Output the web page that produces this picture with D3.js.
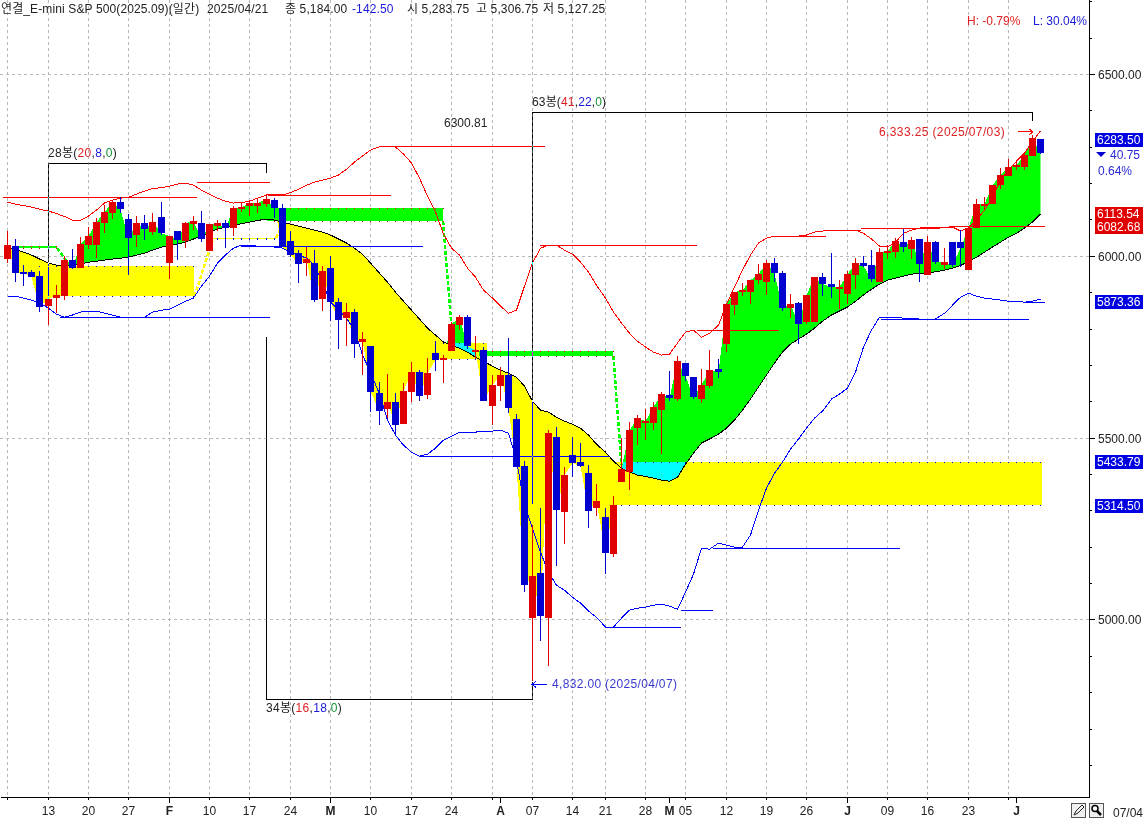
<!DOCTYPE html>
<html><head><meta charset="utf-8">
<script src="https://cdn.jsdelivr.net/npm/d3@7"></script>
<style>
html,body{margin:0;padding:0;background:#fff}
svg{display:block}
text{font-family:"Liberation Sans","Noto Sans CJK KR",sans-serif;font-size:12px;fill:#222}
</style></head><body><div id="chart"></div>
<script>
const opens=[5992,6027,5957,5956,5945,5862,5884,5890,5989,5967,
6030,6030,6091,6118,6148.5,6102,6058,6091,6066,6107,
5981,6069,6041,6088,6091,6014,6082.5,6091,6077,6129,
6137.5,6137.5,6143,6154,6132,6041,6008,5981,5981,5882,
5967,5873.5,5829.5,5846,5763.5,5752.5,5623,5579,5598.5,5538,
5626,5681,5618,5733,5714,5739,5810,5832,5736,5741.5,
5587.5,5642.5,5673,5552,5422.5,5004.5,5128,5004.5,5502,5296,
5453,5433.5,5403,5307,5283.75,5180.5,5378.5,5406,5527,5541,
5541,5576.5,5618,5607,5706,5667,5607,5642.5,5689,5758,
5865,5901,5901,5934,5928.5,5981,5953,5857,5871,5818.5,
5818.5,5942,5923,5909,5895.5,5948,5981,5975,5928.5,6008,
6011,6038.5,6019,6047,5948,6038.5,5975,6038.5,6038.5,5961.5,
6077,6140,6143,6195,6220,6245,6245,6275,6322];
const closes=[6030,5953,5955,5942,5860,5882,5893,5989,5967,6033,
6055,6093,6121,6148.5,6129,6049.5,6091,6074,6093.5,6063,
6055,6044,6091,6096,6047,6088,6091,6077,6132,6135,
6146,6146,6157,6132,6025,6003,5978,5992,5879,5959,
5873.5,5824,5846,5758,5772,5626,5574,5598.5,5535,5629,
5681,5615,5678,5714,5719.5,5813,5832,5752.5,5741.5,5601,
5645,5673,5582,5420,5095,5120,5010,5513,5301.5,5398,
5431,5422.5,5299,5326,5184,5315,5414,5521.5,5554.5,5546,
5585,5620.5,5609.5,5711,5670,5612,5645,5686.5,5681,5868,
5901,5906.5,5934,5950.5,5981,5953,5857,5868,5813,5893,
5942,5923,5915,5915,5950.5,5981,5972.5,5937,6011,6014,
6041,6025,6044,5978,6038.5,5983.5,5983.5,5975,6022,6077,
6143,6143,6195,6223,6245,6250,6278,6324.5,6283.5];
const highs=[6069,6047,5975,5961,5959,5887,5920,6000,6019,6052,
6080,6104.5,6140,6154,6162,6115,6110,6113,6118,6148.5,
6055,6069,6093.5,6110,6124,6088,6099,6099,6137.5,6148.5,
6154,6159.5,6170.5,6159.5,6143,6069,6016.5,6025,6016.5,5972.5,
6000,5884.5,5871,5854,5791,5752.5,5653.5,5675.5,5623,5651,
5708.5,5686.5,5719.5,5766,5728,5818.5,5838,5838,5780,5750,
5673,5695,5774.5,5565.5,5436,5260,5307,5521.5,5530,5420,
5502,5486,5425,5373,5306.75,5340,5500,5543.5,5563,5579,
5598.5,5626,5684,5725,5706,5667,5689,5741.5,5717,5868,
5901,5926,5934,5978,5989,5994.5,5959,5895.5,5873.5,5893,
5942,5953,6008,5934,5959,5994.5,6000,6016.5,6022,6030,
6049.5,6074,6052,6047,6055,6041,6022,6038.5,6071.5,6077,
6157,6162,6195,6242,6267,6261,6280.5,6333.25,6322];
const lows=[5981,5928,5918,5942,5846,5810,5843,5879,5964,5967,
6019,5994,6063,6102,6118,5948,6025,6044,6058,6058,
5937,5989,6022,6071.5,6038.5,6014,6069,6022,6055,6121,
6110,6118,6135,6104.5,6025,5997,5926,5945,5873.5,5849,
5821,5744,5752.5,5719.5,5673,5571,5535,5554.5,5510.5,5538,
5598.5,5601,5607,5684,5651,5739,5796.5,5744,5717,5601,
5535,5601,5568,5420,5076,4832,4941,4872.5,5147.5,5208,
5392,5420,5252,5285,5127.25,5172,5378.5,5356.5,5480,5494,
5521.5,5455.5,5601,5601,5656,5607,5596,5637,5664.5,5736,
5838,5890,5868,5923,5893,5928.5,5849,5829.5,5758,5813,
5818.5,5890,5884.5,5854,5868,5909,5970,5928.5,5928.5,5992,
5994.5,6011,5992,5928.5,5948,5978,5964,5970,5970,5961.5,
6077,6126.5,6143,6184,6220,6236.5,6236.5,6275,6280.5];
const maLine=[6025,6019,6011,6003,5992,5981,5975,5972.5,5975,5978,
5983.5,5986,5989,5992,5994.5,5997,6003,6008,6016.5,6025,
6030,6033,6038.5,6047,6055,6066,6074,6080,6085,6089,
6093.5,6098,6102,6099,6093.5,6088,6082.5,6077,6071.5,6066,
6058,6047,6036,6022,6005.5,5981,5953,5928.5,5901,5876,
5851.5,5827,5802,5783,5763.5,5755,5747,5736,5722,5711,
5697.5,5686.5,5678,5667,5642.5,5601,5576.5,5571,5557,5546,
5538,5527,5508,5483,5461,5436,5417,5406,5398,5394,
5389.5,5384,5381,5392,5428,5458,5486,5497,5510.5,5527,
5549,5576.5,5607,5640,5673,5706,5736,5758,5772,5785.5,
5802,5821,5838,5849,5860,5876,5893,5909,5923,5934,
5939.5,5945,5950.5,5952,5953,5957,5961.5,5967,5974,5986,
5997,6011,6025,6038.5,6052,6063,6077,6093.5,6115.5];
const upperLine=[6148.5,6143,6139,6135,6129,6124,6117,6109,6099,6099,
6110,6126.5,6146,6154,6159.5,6162,6170.5,6179,6186,6188,
6192.5,6198,6201,6195,6181.5,6170.5,6159.5,6151,6146,6147,
6151,6159.5,6168,6170.5,6168,6174.5,6184,6195,6203.5,6209,
6214.5,6223,6239,6258.5,6275,6291.5,6301,6302.5,6300,6280.5,
6256,6214.5,6165,6121,6060.5,6022,6003,5967,5942,5906.5,
5884.5,5862.5,5843,5851.5,5917.5,5981,6022,6030,6030,6016.5,
6005.5,5983.5,5956,5920,5884.5,5846,5816,5788,5766,5750,
5736,5728,5730.5,5761,5791,5796.5,5777,5788,5810,5868,
5915,5961.5,6003,6036,6049.5,6055,6055,6055,6055,6058,
6066,6069,6071.5,6071.5,6071.5,6071.5,6063,6047,6027.5,6025,
6038.5,6063,6071.5,6077,6080,6080,6080,6080,6069,6077,
6099,6126.5,6162,6209,6236.5,6261,6283,6316,6344];
const lowerLine=[5890,5890,5884.5,5879,5871,5857,5840.5,5832,5838,5846,
5849,5849,5843,5838,5832,5832,5832,5832,5846,5851.5,
5854,5865,5876,5884.5,5917.5,5945,5981,6003,6022,6030,
6030,6027.5,6027.5,6025,6022,6011,6003,5994.5,5975,5926,
5873.5,5851.5,5829.5,5796.5,5728,5681,5620.5,5549,5508,5480,
5461,5450,5455.5,5472,5494,5505,5516,5516,5516,5519,
5519,5521.5,5513,5439,5315,5252,5186,5131,5095,5081.5,
5062,5046,5024,5007,4980,4980,5004.5,5026.5,5032,5035,
5040,5043,5037.5,5029,5076,5125.5,5197,5194,5211,5205,
5200,5200,5233,5301.5,5362,5403,5433.5,5469,5497,5527,
5554.5,5574,5607,5620.5,5637,5681,5750,5796.5,5832,5832,
5832,5829.5,5829.5,5827,5827,5827,5843,5865,5887,5898,
5890,5884.5,5882,5879,5876,5876,5873.5,5876,5882];

// stepped bands: [startBar, endBar, high, low]
const yellowBands=[[4,23.2,5972.5,5890],[25.5,33.3,6049.5,6047],[54,59.5,5761,5717],[75.2,128.2,5433.79,5314.5]];
const greenBands=[[1.5,6.2,6027.5,6022],[32.2,54,6132,6096],[58.5,75.1,5739,5725]];
// dashed links between bands: [bar0, price0, bar1, price1]
const yellowLinks=[[23.2,5890,25.5,6047],[33.3,6049.5,34.4,6102]];
const greenLinks=[[6.2,6022,7.7,5975],[54,6096,55,5815],[75.1,5725,76.1,5425]];
// flat level segments: [startBar, endBar, price]
const redLevels=[[-0.5,23.5,6162],[23.5,32.6,6203.5],[32.3,47.6,6168],[46.9,66.6,6300.81],[66,85.5,6030],[85.5,95.6,5796.5],[95,101.5,6055],[101.5,105.8,6071.5],[105.8,115.6,6077],[116.7,128.6,6082.68]];
const blueLevels=[[6.5,32.5,5832],[29,51.5,6027.5],[51,74.5,5450],[74,83.5,4980],[83.5,87.5,5026.5],[87.5,110.6,5197],[108.2,126.6,5827],[126,128.6,5873.36]];
// count brackets: polyline points [bar, price]
const brackets=[
 [[5,5884.5],[5,6255.75],[32,6255.75],[32,6231]],
 [[32,5780],[32,4782],[65,4782],[65,4832]],
 [[65,5320],[65,6396],[127,6396],[127,6374]]];

const gridBars=[0,5,10,15,20,25,30,35,40,45,50,55,60,65,70,74,79,84,89,94,99,104,109,114,119,124];
const tickBars=[0,5,10,15,20,25,30,35,40,45,50,55,60,61,65,70,74,79,82,84,89,94,99,104,109,114,119,124,125];
const tickLabels=['','13','20','27','F','10','17','24','M','10','17','24','','A','07','14','21','28','M','05','12','19','26','J','09','16','23','','J'];
const monthBars=[20,40,61,82,104,125];
const gridPrices=[6500,6000,5500,5000];
const priceTicks=[6700,6600,6500,6400,6300,6200,6100,6000,5900,5800,5700,5600,5500,5400,5300,5200,5100,5000,4900,4800,4700,4600];

const W=1148,H=821,plotR=1089,plotB=797;
const RED='#e00000',BLUE='#0000d0',YELLOW='#ffff00',GREEN='#00ff00',CYAN='#00ffff';
const x=d3.scaleLinear().domain([0,128]).range([7.2,1040.4]);
const y=d3.scaleLinear().domain([6500,5000]).range([74.3,619.8]);
const px=b=>Math.round(x(b));
const cx=b=>px(b)+.5;
const ry=p=>Math.round(y(p)-.35)+.5;
const bars=d3.range(opens.length);

const svg=d3.select('#chart').append('svg').attr('width',W).attr('height',H).attr('viewBox',`0 0 ${W} ${H}`);
svg.append('rect').attr('width',W).attr('height',H).attr('fill','#fff');

const grid=svg.append('g').attr('stroke','#b8b8b8').attr('stroke-dasharray','3 3').attr('shape-rendering','crispEdges');
grid.selectAll('.v').data(gridBars).join('line').attr('x1',cx).attr('x2',cx).attr('y1',0).attr('y2',plotB);
grid.selectAll('.h').data(gridPrices).join('line').attr('x1',0).attr('x2',plotR).attr('y1',ry).attr('y2',ry);

// fill between close line and MA
const defs=svg.append('defs');
const fillArea=d3.area().x(cx).y0(i=>y(closes[i])).y1(i=>y(maLine[i]));
defs.append('clipPath').attr('id','above').append('path').attr('d',d3.area().x(cx).y0(0).y1(i=>y(maLine[i]))(bars));
defs.append('clipPath').attr('id','below').append('path').attr('d',d3.area().x(cx).y0(i=>y(maLine[i])).y1(H)(bars));
defs.append('clipPath').attr('id','fillRegion').append('path').attr('d',fillArea(bars));
const fills=svg.append('g').attr('shape-rendering','crispEdges');
fills.append('path').attr('d',fillArea(bars)).attr('fill',YELLOW).attr('clip-path','url(#below)');
fills.append('path').attr('d',fillArea(bars)).attr('fill',GREEN).attr('clip-path','url(#above)');

const bandRect=(sel,data,color)=>sel.selectAll('rect').data(data).join('rect')
  .attr('x',d=>x(d[0])).attr('width',d=>x(d[1])-x(d[0])).attr('y',d=>y(d[2])).attr('height',d=>Math.max(1,y(d[3])-y(d[2]))).attr('fill',color);
bandRect(svg.append('g').attr('shape-rendering','crispEdges'),yellowBands,YELLOW);
const cyanG=svg.append('g').attr('clip-path','url(#above)').append('g').attr('clip-path','url(#fillRegion)').attr('shape-rendering','crispEdges');
bandRect(cyanG,yellowBands,CYAN);
bandRect(svg.append('g').attr('shape-rendering','crispEdges'),greenBands,GREEN);

const links=(data,color)=>svg.append('g').attr('stroke',color).attr('stroke-width',2.5).attr('stroke-dasharray','4 2').attr('shape-rendering','crispEdges')
  .selectAll('line').data(data).join('line').attr('x1',d=>x(d[0])).attr('y1',d=>y(d[1])).attr('x2',d=>x(d[2])).attr('y2',d=>y(d[3]));
links(yellowLinks,YELLOW);links(greenLinks,GREEN);

// dots along band edges
const bandDots=(data,color)=>{
  const dots=[];
  data.forEach(b=>{d3.range(Math.ceil(b[0]),Math.floor(b[1])+1).forEach(k=>{dots.push([k,b[2]]);dots.push([k,b[3]]);});});
  svg.append('g').attr('fill',color).attr('shape-rendering','crispEdges').selectAll('rect').data(dots).join('rect')
    .attr('x',d=>px(d[0])).attr('y',d=>y(d[1])-.5).attr('width',1).attr('height',1);
};
bandDots(yellowBands,'#0000d0');bandDots(greenBands,'#e00000');

// lines
const line=d=>d3.line().x(cx).y(i=>y(d[i]))(bars);
const lg=svg.append('g').attr('fill','none').attr('shape-rendering','crispEdges');
lg.append('path').attr('d',line(maLine)).attr('stroke','#000');
lg.append('path').attr('d',line(upperLine)).attr('stroke','#ff0000');
lg.append('path').attr('d',line(lowerLine)).attr('stroke','#0000ff');
const levels=(data,color)=>lg.append('g').attr('stroke',color).selectAll('line').data(data).join('line')
  .attr('x1',d=>x(d[0])).attr('x2',d=>x(d[1])).attr('y1',d=>ry(d[2])).attr('y2',d=>ry(d[2]));
levels(redLevels,'#ff0000');levels(blueLevels,'#0000ff');

// candles
const cg=svg.append('g').attr('shape-rendering','crispEdges');
const col=i=>closes[i]>=opens[i]?RED:BLUE;
cg.selectAll('.w').data(bars).join('rect').attr('x',px).attr('width',1)
  .attr('y',i=>y(highs[i])).attr('height',i=>y(lows[i])-y(highs[i])).attr('fill',col);
cg.selectAll('.b').data(bars).join('rect').attr('x',i=>px(i)-3).attr('width',7)
  .attr('y',i=>Math.round(y(Math.max(opens[i],closes[i]))))
  .attr('height',i=>Math.max(2,Math.round(Math.abs(y(opens[i])-y(closes[i])))))
  .attr('fill',col);

// XOR brackets: white with a difference blend reads black on white, blue on yellow, magenta on green
const brg=svg.append('g').attr('fill','none').attr('stroke','#fff').style('mix-blend-mode','difference').attr('shape-rendering','crispEdges');
brg.selectAll('path').data(brackets).join('path')
  .attr('d',d3.line().x(d=>cx(d[0])).y(d=>ry(d[1])));

// axes
const ax=svg.append('g').attr('transform',`translate(0,${plotB})`).call(d3.axisBottom(x).tickValues(tickBars).tickFormat((d,i)=>tickLabels[i]).tickSize(3));
ax.select('.domain').remove();
ax.selectAll('.tick').attr('transform',d=>`translate(${cx(d)},0)`);
ax.selectAll('.tick line').attr('stroke','#000').attr('y2',d=>monthBars.includes(d)?6:3).attr('shape-rendering','crispEdges');
ax.selectAll('.tick text').attr('y',9).attr('font-family',null).attr('font-size',null).style('font-weight',d=>monthBars.includes(d)?'bold':'normal');
const ay=svg.append('g').attr('transform',`translate(${plotR},0)`).call(d3.axisRight(y).tickValues(priceTicks).tickFormat(d=>gridPrices.includes(d)?d3.format('.2f')(d):'').tickSize(3));
ay.select('.domain').remove();
ay.selectAll('.tick').attr('transform',d=>`translate(0,${ry(d)})`);
ay.selectAll('.tick line').attr('stroke','#000').attr('x1',0).attr('x2',d=>gridPrices.includes(d)?6:3).attr('shape-rendering','crispEdges');
ay.selectAll('.tick text').attr('x',9).attr('font-family',null).attr('font-size',null).attr('dy','.36em');
svg.append('path').attr('d',`M.5,${plotB+.5}H${plotR+.5}V0`).attr('fill','none').attr('stroke','#000').attr('shape-rendering','crispEdges');

// text helpers
const T=(xx,yy,parts,ls)=>{
  const t=svg.append('text').attr('x',xx).attr('y',yy);
  if(ls)t.style('letter-spacing',ls+'px');
  parts.forEach(p=>{const s=t.append('tspan').text(p[0]);if(p[1])s.style('fill',p[1]);if(p[2]!=null)s.attr('x',p[2]);});
  return t;
};
const DK='#222',TXTB='#1a1ad8',TXTR='#e02020',TXTG='#109030';
T(1,13,[['연결_E-mini S&P 500(2025.09)(일간)',DK],['2025/04/21',DK,207],['종 5,184.00',DK,285],['-142.50',TXTB,352],['시 5,283.75',DK,407],['고 5,306.75',DK,476],['저 5,127.25',DK,543]],0.12);
T(967,25,[['H: -0.79%',TXTR]]);
T(1033,25,[['L: 30.04%',TXTB]]);
T(48,157,[['28봉(',DK],['20',TXTR],[',',DK],['8',TXTB],[',',DK],['0',TXTG],[')',DK]],0.3);
T(266,712,[['34봉(',DK],['16',TXTR],[',',DK],['18',TXTB],[',',DK],['0',TXTG],[')',DK]],0.3);
T(532,106,[['63봉(',DK],['41',TXTR],[',',DK],['22',TXTB],[',',DK],['0',TXTG],[')',DK]],0.15);
T(444,127,[['6300.81',DK]]);
T(879,136,[['6,333.25 (2025/07/03)',TXTR]],0.38);
T(552,688,[['4,832.00 (2025/04/07)','#3a3ad0']],0.34);
// pointer arrows at the extreme bars
svg.append('path').attr('d',`M${px(127)-14},${y(6333.25)-3}h15m-4,-3l4,3l-4,3`).attr('fill','none').attr('stroke','#ff0000').attr('shape-rendering','crispEdges');
svg.append('path').attr('d',`M${px(65)+15},${y(4832)+3.5}h-15m4,-3l-4,3l4,3`).attr('fill','none').attr('stroke','#0000ff').attr('shape-rendering','crispEdges');

// price tags
const tagPrices=[6283.5,6113.54,6082.68,5873.36,5433.79,5314.5];
const tagFills=['#0000e0','#e00000','#e00000','#0000e0','#0000e0','#0000e0'];
const tagY=[140,214,227,302,462,506];
const tags=svg.append('g');
tags.selectAll('rect').data(tagPrices).join('rect').attr('x',1095).attr('width',48).attr('height',14)
  .attr('y',(d,i)=>tagY[i]-7).attr('fill',(d,i)=>tagFills[i]).attr('shape-rendering','crispEdges');
tags.selectAll('text').data(tagPrices).join('text').attr('x',1097).attr('y',(d,i)=>tagY[i]+4)
  .style('fill','#fff').text(d=>d3.format('.2f')(d));
svg.append('path').attr('d','M1096,152h10l-5,5z').attr('fill','#0000d0');
T(1110,159,[['40.75','#2a2ad8']]);
T(1098,175,[['0.64%','#2a2ad8']]);
T(1113,817,[['07/04','#222']]);

// bottom tool buttons
const btn=svg.append('g').attr('fill','none').attr('shape-rendering','crispEdges');
[1071,1089].forEach(bx=>{
  btn.append('rect').attr('x',bx+.5).attr('y',803.5).attr('width',14).attr('height',14).attr('fill','#f0f0f0').attr('stroke','#555');
});
svg.append('path').attr('d','M1074,815l2,-4l6,-6l2,2l-6,6z').attr('fill','none').attr('stroke','#222');
svg.append('circle').attr('cx',1095).attr('cy',808.5).attr('r',3).attr('fill','#fff').attr('stroke','#000').attr('stroke-width',1.5);
svg.append('path').attr('d','M1097,811l4,4').attr('stroke','#000').attr('stroke-width',2.5);
</script></body></html>
